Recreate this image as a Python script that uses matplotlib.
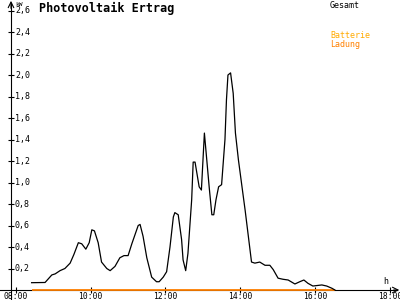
import matplotlib
matplotlib.use("Agg")
import matplotlib.pyplot as plt
from matplotlib.transforms import offset_copy

# ------------------------
# Data
# ------------------------
hours = [8.42, 8.78, 8.96, 9.05, 9.18, 9.31, 9.45, 9.55, 9.67, 9.76, 9.87, 9.96,
         10.03, 10.10, 10.20, 10.29, 10.43, 10.52, 10.65, 10.78, 10.89, 11.00,
         11.10, 11.18, 11.27, 11.32, 11.40, 11.50, 11.63, 11.76, 11.83, 11.94,
         12.03, 12.12, 12.21, 12.25, 12.34, 12.43, 12.47, 12.54, 12.60, 12.70,
         12.74, 12.79, 12.90, 12.96, 13.04, 13.17, 13.24, 13.29, 13.35, 13.42,
         13.50, 13.59, 13.63, 13.67, 13.74, 13.81, 13.87, 13.95, 14.08, 14.13,
         14.30, 14.39, 14.52, 14.66, 14.79, 14.88, 15.01, 15.14, 15.28, 15.46,
         15.59, 15.70, 15.81, 15.94, 16.18, 16.31, 16.45, 16.53]
power = [0.068, 0.07, 0.14, 0.15, 0.18, 0.20, 0.25, 0.33, 0.44, 0.43, 0.38, 0.44,
         0.56, 0.55, 0.44, 0.26, 0.20, 0.18, 0.22, 0.30, 0.32, 0.32,
         0.43, 0.51, 0.60, 0.61, 0.50, 0.30, 0.12, 0.077, 0.077, 0.12,
         0.17, 0.40, 0.68, 0.72, 0.70, 0.47, 0.28, 0.18, 0.34, 0.84,
         1.19, 1.19, 0.96, 0.93, 1.46, 0.95, 0.70, 0.70, 0.84, 0.96,
         0.98, 1.40, 1.77, 2.00, 2.02, 1.83, 1.46, 1.21, 0.87, 0.74,
         0.26, 0.25, 0.26, 0.23, 0.23, 0.19, 0.11, 0.10, 0.093, 0.056,
         0.077, 0.093, 0.062, 0.037, 0.047, 0.037, 0.016, 0.0]
charge_hours = [8.42, 16.53]
charge_power = [0.0, 0.0]

y_ticks = [0.2, 0.4, 0.6, 0.8, 1.0, 1.2, 1.4, 1.6, 1.8, 2.0, 2.2, 2.4, 2.6]
x_ticks = [8, 10, 12, 14, 16, 18]
x_labels = ["08:00", "10:00", "12:00", "14:00", "16:00", "18:00"]

# ------------------------
# Plot
# ------------------------
MONO = "DejaVu Sans Mono"
X0, X1 = 7.575, 18.27
Y0, Y1 = -0.093, 2.698
YAXIS_X = 7.869

fig = plt.figure(figsize=(4, 3), dpi=100)
ax = fig.add_axes([0, 0, 1, 1])
ax.set_xlim(X0, X1)
ax.set_ylim(Y0, Y1)
ax.patch.set_alpha(0)

for side in ("top", "right"):
    ax.spines[side].set_visible(False)
ax.spines["left"].set_position(("data", YAXIS_X))
ax.spines["bottom"].set_position(("data", 0))
ax.spines["left"].set_bounds(Y0, 2.67)
ax.spines["bottom"].set_bounds(X0, 18.20)

ax.set_xticks(x_ticks)
ax.set_xticklabels(x_labels, fontsize=5.8, family=MONO)
ax.set_yticks(y_ticks)
ax.set_yticklabels([])
ax.tick_params(axis="x", direction="inout", length=5, width=0.8, pad=-1.2)
ax.tick_params(axis="y", direction="inout", length=5, width=0.8)

lab_tr = offset_copy(ax.transData, fig=fig, x=4, y=0, units="dots")
for v in y_ticks:
    ax.text(YAXIS_X, v, f"{v:.1f}".replace(".", ","), transform=lab_tr,
            fontsize=6, family=MONO, ha="left", va="center")

# axis arrows
ax.annotate("", xy=(YAXIS_X, 2.69), xytext=(YAXIS_X, 2.62),
            arrowprops=dict(arrowstyle="->", lw=0.8, color="black",
                            shrinkA=0, shrinkB=0))
ax.annotate("", xy=(18.25, 0), xytext=(18.1, 0),
            arrowprops=dict(arrowstyle="->", lw=0.8, color="black",
                            shrinkA=0, shrinkB=0))

ax.plot(charge_hours, charge_power, color="#ff8000", lw=1.3, zorder=3,
        solid_capstyle="butt")
ax.plot(hours, power, color="black", lw=0.9, zorder=4)

fig.text(15 / 400, 1 - 5 / 300, "kW", fontsize=4.5, family=MONO,
         ha="left", va="center")
fig.text(39 / 400, 1 - 8 / 300, "Photovoltaik Ertrag", fontsize=8.5,
         family=MONO, weight="bold", ha="left", va="center")
fig.text(386 / 400, 1 - 281 / 300, "h", fontsize=6, family=MONO,
         ha="center", va="center")
fig.text(330 / 400, 1 - 5 / 300, "Gesamt", fontsize=6, family=MONO,
         ha="left", va="center")
fig.text(330 / 400, 1 - 36 / 300, "Batterie", fontsize=6, family=MONO,
         color="#ffaa00", ha="left", va="center")
fig.text(330 / 400, 1 - 44 / 300, "Ladung", fontsize=6, family=MONO,
         color="#ff8000", ha="left", va="center")

fig.savefig("out.png", dpi=100)
